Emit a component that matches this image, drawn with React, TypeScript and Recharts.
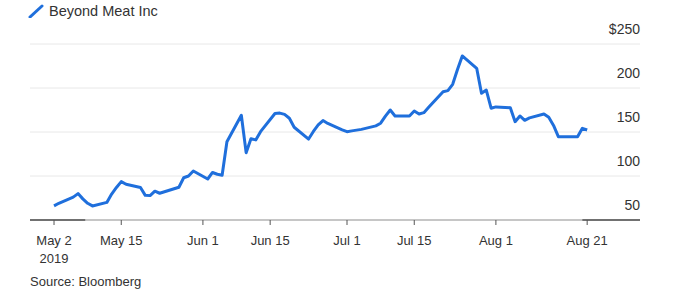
import { CartesianGrid, Line, LineChart, ReferenceLine, XAxis, YAxis } from "recharts";

// Beyond Meat daily close
const dates = [
  "2019-05-02", "2019-05-03", "2019-05-06", "2019-05-07", "2019-05-08", "2019-05-09", "2019-05-10",
  "2019-05-13", "2019-05-14", "2019-05-15", "2019-05-16", "2019-05-17", "2019-05-20", "2019-05-21",
  "2019-05-22", "2019-05-23", "2019-05-24", "2019-05-28", "2019-05-29", "2019-05-30", "2019-05-31",
  "2019-06-03", "2019-06-04", "2019-06-05", "2019-06-06", "2019-06-07", "2019-06-10", "2019-06-11",
  "2019-06-12", "2019-06-13", "2019-06-14", "2019-06-17", "2019-06-18", "2019-06-19", "2019-06-20",
  "2019-06-21", "2019-06-24", "2019-06-25", "2019-06-26", "2019-06-27", "2019-06-28",
  "2019-07-01", "2019-07-02", "2019-07-03", "2019-07-05", "2019-07-08", "2019-07-09", "2019-07-10",
  "2019-07-11", "2019-07-12", "2019-07-15", "2019-07-16", "2019-07-17", "2019-07-18", "2019-07-19",
  "2019-07-22", "2019-07-23", "2019-07-24", "2019-07-25", "2019-07-26", "2019-07-29", "2019-07-30",
  "2019-07-31", "2019-08-01", "2019-08-02", "2019-08-05", "2019-08-06", "2019-08-07", "2019-08-08",
  "2019-08-09", "2019-08-12", "2019-08-13", "2019-08-14", "2019-08-15", "2019-08-16", "2019-08-19",
  "2019-08-20", "2019-08-21",
];

const prices = [
  66, 69, 76, 80, 74, 69, 66,
  70, 79.5, 87, 93.6, 90.6, 87, 78,
  77.7, 82.7, 80.4, 87.2, 98, 100, 105.7,
  96.6, 104, 102, 100.8, 139, 169, 126.5,
  142.4, 141, 150.4, 171, 171.5, 170, 165.6,
  155.4, 142, 150.6, 158, 163, 159.7,
  152.5, 150.4, 151.3, 153, 157, 160, 168,
  175, 168.2, 168.2, 173.9, 170.5, 172, 178,
  195.8, 197, 204.2, 221, 236.4, 222.4, 194,
  197.7, 177, 178.5, 177.6, 161.7, 168.2, 163.3,
  166, 170.5, 166.7, 157.5, 144.7, 144.7, 144.7,
  154.2, 152.3,
];

const tickDays = [0, 14, 31, 45, 61, 75, 92, 111];
const tickLabels = ["May 2", "May 15", "Jun 1", "Jun 15", "Jul 1", "Jul 15", "Aug 1", "Aug 21"];
const yTicks = [50, 100, 150, 200, 250];

const start = Date.parse(dates[0]);
const data = dates.map((d, i) => ({
  day: (Date.parse(d) - start) / 86400000,
  price: prices[i],
}));

const textColor = "#333";
const lineColor = "#1f6fdc";

const XTick = (props: any) => {
  const { x, y, payload } = props;
  const idx = tickDays.indexOf(payload.value);
  return (
    <g>
      <text x={x} y={y} dy={18} textAnchor="middle" fontSize={13} fill={textColor}>
        {tickLabels[idx]}
      </text>
      {idx === 0 && (
        <text x={x} y={y} dy={36} textAnchor="middle" fontSize={13} fill={textColor}>
          2019
        </text>
      )}
    </g>
  );
};

const YTick = (props: any) => {
  const { y, payload } = props;
  const label = payload.value === 250 ? "$250" : String(payload.value);
  return (
    <text x={640} y={y - 10} textAnchor="end" fontSize={14} fill={textColor}>
      {label}
    </text>
  );
};

export default function App() {
  return (
    <div
      style={{
        position: "relative",
        width: 693,
        height: 299,
        background: "#fff",
        fontFamily: "'Liberation Sans', Arial, sans-serif",
      }}
    >
      <style>{`body{margin:0}`}</style>
      <div
        style={{
          position: "absolute",
          left: 28,
          top: 3,
          display: "flex",
          alignItems: "center",
          fontSize: 14.5,
          lineHeight: "16px",
          color: textColor,
        }}
      >
        <svg width={16} height={14} style={{ marginRight: 5 }}>
          <line x1={2} y1={13} x2={14} y2={2} stroke={lineColor} strokeWidth={3} strokeLinecap="round" />
        </svg>
        Beyond Meat Inc
      </div>
      <LineChart
        width={693}
        height={299}
        data={data}
        margin={{ top: 44, right: 0, left: 30, bottom: 49 }}
      >
        <CartesianGrid vertical={false} stroke="#e8e8e8" />
        <XAxis
          dataKey="day"
          type="number"
          domain={[-5, 122]}
          ticks={tickDays}
          interval={0}
          height={30}
          tick={<XTick />}
          tickSize={5}
          tickLine={{ stroke: "#555" }}
          axisLine={{ stroke: "#999" }}
        />
        <YAxis
          orientation="right"
          width={53}
          domain={[50, 250]}
          ticks={yTicks}
          interval={0}
          axisLine={false}
          tickLine={false}
          tick={<YTick />}
        />
        <ReferenceLine
          segment={[{ x: -5, y: 50 }, { x: 6.5, y: 50 }]}
          stroke="#111"
          strokeWidth={1.5}
        />
        <ReferenceLine
          segment={[{ x: 110, y: 50 }, { x: 122, y: 50 }]}
          stroke="#111"
          strokeWidth={1.5}
        />
        <Line
          type="linear"
          dataKey="price"
          stroke={lineColor}
          strokeWidth={3}
          dot={false}
          strokeLinejoin="round"
          isAnimationActive={false}
        />
      </LineChart>
      <div
        style={{
          position: "absolute",
          left: 30,
          top: 274,
          fontSize: 13,
          lineHeight: "15px",
          color: textColor,
        }}
      >
        Source: Bloomberg
      </div>
    </div>
  );
}
